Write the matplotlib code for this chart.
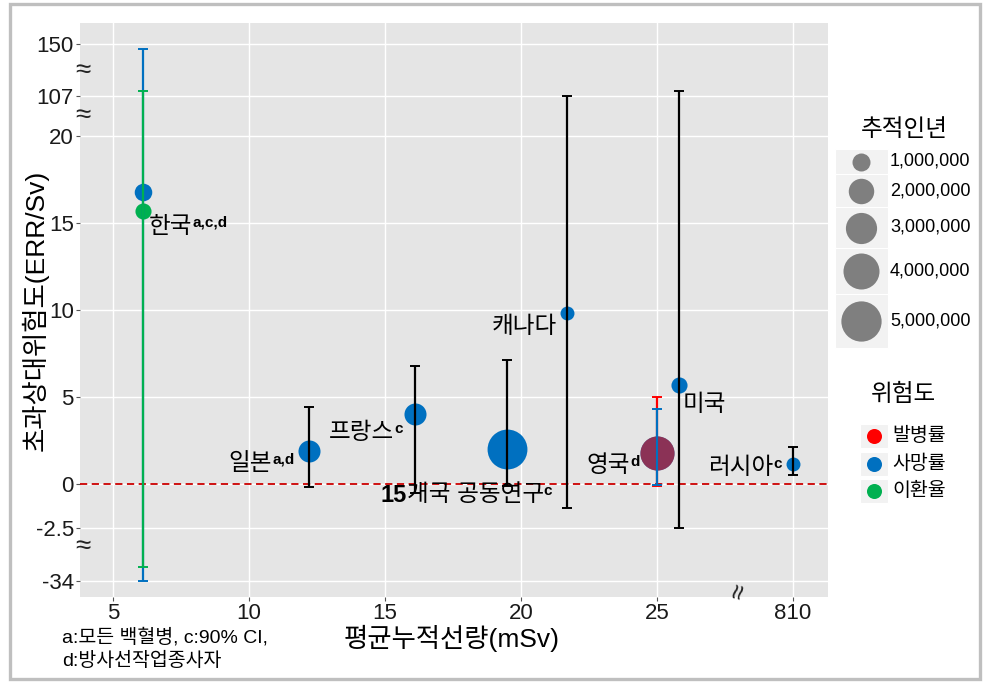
import numpy as np
import matplotlib
matplotlib.use('Agg')
import matplotlib.pyplot as plt
from matplotlib.patches import Rectangle

plt.rcParams['font.family'] = ['Liberation Sans', 'Noto Sans CJK KR']

# ---- data ----
study = ['한국', '한국', '일본', '프랑스', '15개국 공동연구', '캐나다', '미국', '영국', '영국', '러시아']
risk = ['사망률', '이환율', '사망률', '사망률', '사망률', '사망률', '사망률', '사망률', '발병률', '사망률']
dose = [6.1, 6.1, 12.2, 16.1, 19.5, 21.7, 25.8, 25.0, 25.0, 810]
err = [16.8, 15.7, 1.9, 4.0, 2.0, 9.8, 5.7, 1.8, 1.8, 1.15]
err_lo = [-34, -25.6, -0.2, -0.5, -0.1, -1.4, -2.5, -0.05, -0.1, 0.5]
err_hi = [146, 111, 4.4, 6.8, 7.1, 106.5, 111, 4.3, 5.0, 2.1]
person_years = [0.95e6, 0.8e6, 1.5e6, 1.5e6, 4.9e6, 0.6e6, 0.8e6, 3.6e6, 3.6e6, 0.6e6]

legend_sizes = [1e6, 2e6, 3e6, 4e6, 5e6]
legend_size_labels = ['1,000,000', '2,000,000', '3,000,000', '4,000,000', '5,000,000']
risk_levels = ['발병률', '사망률', '이환율']

x_ticks = [5, 10, 15, 20, 25, 810]
y_ticks = [-34, -2.5, 0, 5, 10, 15, 20, 107, 150]
y_tick_labels = ['-34', '-2.5', '0', '5', '10', '15', '20', '107', '150']

# label text and superscript per point ('|' splits a bold prefix)
labels = {0: ('한국', 'a,c,d'), 2: ('일본', 'a,d'), 3: ('프랑스', 'c'),
          4: ('15|개국 공동연구', 'c'), 5: ('캐나다', ''), 6: ('미국', ''),
          7: ('영국', 'd'), 9: ('러시아', 'c')}
label_offset = {0: (6, -35), 2: (-80, -13), 3: (-86, -19), 4: (-127, -46),
                5: (-76, -14), 6: (4, -20), 7: (-70, -13), 9: (-85, -4)}

risk_colors = {'발병률': '#FF0000', '사망률': '#0070C0', '이환율': '#00B050'}
# error bars are black except for the Korean and UK studies
errbar_colored = {'한국', '영국'}


# ---- broken axes as piecewise linear scales ----
def make_scale(vals, pos):
    vals = np.asarray(vals, float)
    pos = np.asarray(pos, float)
    lo_s = (pos[1] - pos[0]) / (vals[1] - vals[0])
    hi_s = (pos[-1] - pos[-2]) / (vals[-1] - vals[-2])
    v = np.concatenate([[vals[0] - 1e5], vals, [vals[-1] + 1e5]])
    p = np.concatenate([[pos[0] - 1e5 * lo_s], pos, [pos[-1] + 1e5 * hi_s]])
    fwd = lambda a: np.interp(a, v, p)
    inv = lambda a: np.interp(a, p, v)
    return fwd, inv


y_fwd, y_inv = make_scale([-34, -2.5, 20, 107, 150], [-5.6, -2.5, 20, 22.3, 25.29])
x_fwd, x_inv = make_scale([0, 28, 810], [0, 28, 30])


def size_of(py):
    return 168 * np.asarray(py) / 1e6


fig = plt.figure(figsize=(9.88, 6.87), dpi=100)
ax = fig.add_axes([80 / 988, 90 / 687, 748 / 988, 574 / 687])
ax.set_xscale('function', functions=(x_fwd, x_inv))
ax.set_yscale('function', functions=(y_fwd, y_inv))
ax.set_xlim(x_inv(3.79), x_inv(31.29))
ax.set_ylim(y_inv(-6.494), y_inv(26.494))

ax.set_facecolor('#E5E5E5')
for s in ax.spines.values():
    s.set_visible(False)
ax.set_xticks(x_ticks)
ax.set_xticklabels([str(t) for t in x_ticks])
ax.set_yticks(y_ticks)
ax.set_yticklabels(y_tick_labels)
ax.minorticks_off()
ax.tick_params(axis='both', labelsize=16, colors='#555555', labelcolor='#1a1a1a',
               length=3, width=0.8, pad=1.5)
ax.grid(True, color='white', linewidth=1.0)
ax.set_axisbelow(True)

ax.axhline(0, color='#CC0000', linestyle=(0, (4, 2.5)), linewidth=1.3, zorder=2)

# points
for i in range(len(study)):
    if risk[i] == '발병률':
        continue
    ax.scatter(dose[i], err[i], s=size_of(person_years[i]), color=risk_colors[risk[i]],
               linewidths=0, zorder=3)
for i in range(len(study)):
    if risk[i] == '발병률':
        ax.scatter(dose[i], err[i], s=size_of(person_years[i]), color=risk_colors[risk[i]],
                   alpha=0.55, linewidths=0, zorder=3)

# error bars, drawn by risk level order
for lvl in risk_levels:
    for i in range(len(study)):
        if risk[i] != lvl:
            continue
        c = risk_colors[lvl] if study[i] in errbar_colored else 'black'
        ax.errorbar(dose[i], err[i], yerr=[[err[i] - err_lo[i]], [err_hi[i] - err[i]]],
                    fmt='none', ecolor=c, elinewidth=1.6, capsize=3.5, capthick=1.4,
                    zorder=4)

# point labels
fig.canvas.draw()
renderer = fig.canvas.get_renderer()
for i, (main, sup) in labels.items():
    dx, dy = label_offset[i]
    segs = []
    if '|' in main:
        a, b = main.split('|')
        segs.append((a, 17, 'bold', 0))
        segs.append((b, 17, 'normal', 0))
    else:
        segs.append((main, 17, 'normal', 0))
    if sup:
        segs.append((sup, 11, 'bold', 4))
    cur = dx
    for txt, fs, fw, sdy in segs:
        t = ax.annotate(txt, xy=(dose[i], err[i]), xytext=(cur, dy + sdy),
                        textcoords='offset pixels', ha='left', va='center',
                        fontsize=fs, fontweight=fw, color='black', zorder=5)
        cur += t.get_window_extent(renderer).width

# break marks
brk = dict(ha='center', va='center', fontsize=20, color='#222222', clip_on=False)
ax.text(0.004, 128, '≈', transform=ax.get_yaxis_transform(), **brk)
ax.text(0.004, 63, '≈', transform=ax.get_yaxis_transform(), **brk)
ax.text(0.004, -14, '≈', transform=ax.get_yaxis_transform(), **brk)
ax.text(x_inv(28.05), 0.008, '≈', transform=ax.get_xaxis_transform(), rotation=75, **brk)

# axis titles and footnote
fig.text(35 / 988, 1 - 310 / 687, '초과상대위험도(ERR/Sv)', rotation=90,
         ha='center', va='center', fontsize=19)
fig.text(452 / 988, 1 - 638 / 687, '평균누적선량(mSv)', ha='center', va='center', fontsize=19)
fig.text(62 / 988, 1 - 637 / 687, 'a:모든 백혈병, c:90% CI,', ha='left', va='center', fontsize=14)
fig.text(62 / 988, 1 - 661 / 687, 'd:방사선작업종사자', ha='left', va='center', fontsize=14)

# legends drawn in a pixel-coordinate overlay
lg = fig.add_axes([0, 0, 1, 1], zorder=-1)
lg.set_xlim(0, 988)
lg.set_ylim(687, 0)
lg.axis('off')

lg.text(904, 130, '추적인년', ha='center', va='center', fontsize=17)
row_edges = [149, 174, 207, 248, 294, 348]
for k, val in enumerate(legend_sizes):
    y0, y1 = row_edges[k], row_edges[k + 1]
    lg.add_patch(Rectangle((835, y0), 53, y1 - y0, facecolor='#F2F2F2',
                           edgecolor='white', linewidth=0.8))
    lg.scatter(861, (y0 + y1) / 2, s=size_of(val), color='#7F7F7F', linewidths=0)
    lg.text(890, (y0 + y1) / 2, legend_size_labels[k], ha='left', va='center', fontsize=13)

lg.text(903, 395, '위험도', ha='center', va='center', fontsize=17)
for k, lvl in enumerate(risk_levels):
    yc = 436 + 27.5 * k
    lg.add_patch(Rectangle((860, yc - 12), 28, 24, facecolor='#F2F2F2',
                           edgecolor='white', linewidth=0.8))
    lg.scatter(874, yc, s=117, color=risk_colors[lvl], linewidths=0)
    lg.text(892, yc, lvl, ha='left', va='center', fontsize=14)

# outer frame
lg.add_patch(Rectangle((10, 3.5), 970, 675, facecolor='none', edgecolor='#BFBFBF',
                       linewidth=2.4))

fig.savefig('out.png', dpi=100)
